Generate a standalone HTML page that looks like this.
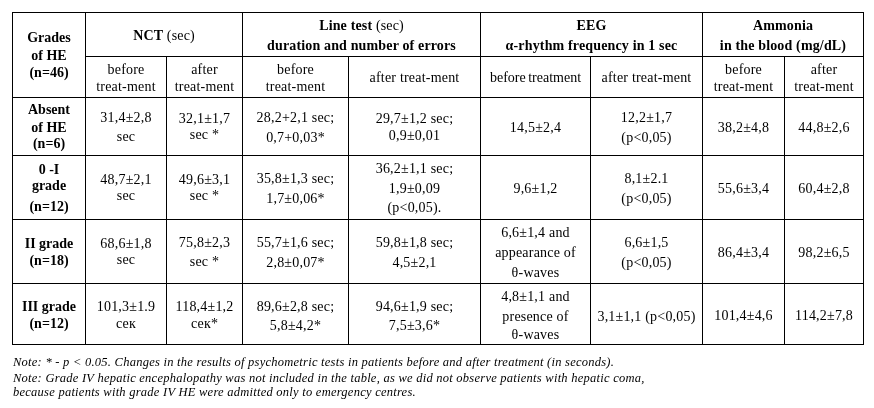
<!DOCTYPE html>
<html><head><meta charset="utf-8"><style>
html,body{margin:0;padding:0;background:#fff;}
body{width:874px;height:408px;position:relative;overflow:hidden;font-family:"Liberation Serif","DejaVu Serif",serif;color:#000;}
.l{position:absolute;background:#000;}
.t{position:absolute;text-align:center;font-size:14px;line-height:16px;height:16px;white-space:nowrap;}
.t.b{font-weight:bold;}
.t.h{letter-spacing:0.15px;}
.t.s{letter-spacing:0.2px;}
.t.d{letter-spacing:0.2px;}
.n{position:absolute;left:13px;font-style:italic;font-size:12.5px;line-height:16px;letter-spacing:0.25px;white-space:nowrap;}
</style></head><body>

<div class="l" style="left:12px;top:12px;width:1px;height:333px"></div>
<div class="l" style="left:85px;top:12px;width:1px;height:333px"></div>
<div class="l" style="left:166px;top:56px;width:1px;height:289px"></div>
<div class="l" style="left:242px;top:12px;width:1px;height:333px"></div>
<div class="l" style="left:348px;top:56px;width:1px;height:289px"></div>
<div class="l" style="left:480px;top:12px;width:1px;height:333px"></div>
<div class="l" style="left:590px;top:56px;width:1px;height:289px"></div>
<div class="l" style="left:702px;top:12px;width:1px;height:333px"></div>
<div class="l" style="left:784px;top:56px;width:1px;height:289px"></div>
<div class="l" style="left:863px;top:12px;width:1px;height:333px"></div>
<div class="l" style="left:12px;top:12px;width:852px;height:1px"></div>
<div class="l" style="left:85px;top:56px;width:779px;height:1px"></div>
<div class="l" style="left:12px;top:97px;width:852px;height:1px"></div>
<div class="l" style="left:12px;top:155px;width:852px;height:1px"></div>
<div class="l" style="left:12px;top:219px;width:852px;height:1px"></div>
<div class="l" style="left:12px;top:283px;width:852px;height:1px"></div>
<div class="l" style="left:12px;top:344px;width:852px;height:1px"></div>
<div class="t b" style="left:13px;top:30px;width:72px">Grades</div>
<div class="t b" style="left:13px;top:48px;width:72px">of HE</div>
<div class="t b" style="left:13px;top:65px;width:72px">(n=46)</div>
<div class="t h" style="left:86px;top:28px;width:156px"><b>NCT</b> (sec)</div>
<div class="t h" style="left:243px;top:18px;width:237px"><b>Line test</b> (sec)</div>
<div class="t h" style="left:243px;top:38px;width:237px"><b>duration and number of errors</b></div>
<div class="t h" style="left:481px;top:18px;width:221px"><b>EEG</b></div>
<div class="t h" style="left:481px;top:38px;width:221px"><b>α-rhythm frequency in 1 sec</b></div>
<div class="t b h" style="left:703px;top:18px;width:160px">Ammonia</div>
<div class="t b h" style="left:703px;top:38px;width:160px">in the blood (mg/dL)</div>
<div class="t s" style="left:86px;top:62px;width:80px">before</div>
<div class="t s" style="left:86px;top:79px;width:80px">treat-ment</div>
<div class="t s" style="left:167px;top:62px;width:75px">after</div>
<div class="t s" style="left:167px;top:79px;width:75px">treat-ment</div>
<div class="t s" style="left:243px;top:62px;width:105px">before</div>
<div class="t s" style="left:243px;top:79px;width:105px">treat-ment</div>
<div class="t s" style="left:349px;top:70px;width:131px">after treat-ment</div>
<div class="t s" style="left:481px;top:70px;width:109px"><span style="letter-spacing:0;word-spacing:-1px">before treatment</span></div>
<div class="t s" style="left:591px;top:70px;width:111px">after treat-ment</div>
<div class="t s" style="left:703px;top:62px;width:81px">before</div>
<div class="t s" style="left:703px;top:79px;width:81px">treat-ment</div>
<div class="t s" style="left:785px;top:62px;width:78px">after</div>
<div class="t s" style="left:785px;top:79px;width:78px">treat-ment</div>
<div class="t b" style="left:13px;top:102px;width:72px">Absent</div>
<div class="t b" style="left:13px;top:120px;width:72px">of HE</div>
<div class="t b" style="left:13px;top:136px;width:72px">(n=6)</div>
<div class="t d" style="left:86px;top:110px;width:80px">31,4±2,8</div>
<div class="t d" style="left:86px;top:129px;width:80px">sec</div>
<div class="t d" style="left:167px;top:111px;width:75px">32,1±1,7</div>
<div class="t d" style="left:167px;top:127px;width:75px">sec *</div>
<div class="t d" style="left:243px;top:110px;width:105px">28,2+2,1 sec;</div>
<div class="t d" style="left:243px;top:130px;width:105px">0,7+0,03*</div>
<div class="t d" style="left:349px;top:111px;width:131px">29,7±1,2 sec;</div>
<div class="t d" style="left:349px;top:128px;width:131px">0,9±0,01</div>
<div class="t d" style="left:481px;top:120px;width:109px">14,5±2,4</div>
<div class="t d" style="left:591px;top:110px;width:111px">12,2±1,7</div>
<div class="t d" style="left:591px;top:130px;width:111px">(p&lt;0,05)</div>
<div class="t d" style="left:703px;top:120px;width:81px">38,2±4,8</div>
<div class="t d" style="left:785px;top:120px;width:78px">44,8±2,6</div>
<div class="t b" style="left:13px;top:162px;width:72px">0 -I</div>
<div class="t b" style="left:13px;top:178px;width:72px">grade</div>
<div class="t b" style="left:13px;top:199px;width:72px">(n=12)</div>
<div class="t d" style="left:86px;top:172px;width:80px">48,7±2,1</div>
<div class="t d" style="left:86px;top:188px;width:80px">sec</div>
<div class="t d" style="left:167px;top:172px;width:75px">49,6±3,1</div>
<div class="t d" style="left:167px;top:188px;width:75px">sec *</div>
<div class="t d" style="left:243px;top:171px;width:105px">35,8±1,3 sec;</div>
<div class="t d" style="left:243px;top:191px;width:105px">1,7±0,06*</div>
<div class="t d" style="left:349px;top:161px;width:131px">36,2±1,1 sec;</div>
<div class="t d" style="left:349px;top:181px;width:131px">1,9±0,09</div>
<div class="t d" style="left:349px;top:200px;width:131px">(p&lt;0,05).</div>
<div class="t d" style="left:481px;top:181px;width:109px">9,6±1,2</div>
<div class="t d" style="left:591px;top:171px;width:111px">8,1±2.1</div>
<div class="t d" style="left:591px;top:191px;width:111px">(p&lt;0,05)</div>
<div class="t d" style="left:703px;top:181px;width:81px">55,6±3,4</div>
<div class="t d" style="left:785px;top:181px;width:78px">60,4±2,8</div>
<div class="t b" style="left:13px;top:236px;width:72px">II grade</div>
<div class="t b" style="left:13px;top:253px;width:72px">(n=18)</div>
<div class="t d" style="left:86px;top:236px;width:80px">68,6±1,8</div>
<div class="t d" style="left:86px;top:252px;width:80px">sec</div>
<div class="t d" style="left:167px;top:235px;width:75px">75,8±2,3</div>
<div class="t d" style="left:167px;top:254px;width:75px">sec *</div>
<div class="t d" style="left:243px;top:235px;width:105px">55,7±1,6 sec;</div>
<div class="t d" style="left:243px;top:255px;width:105px">2,8±0,07*</div>
<div class="t d" style="left:349px;top:235px;width:131px">59,8±1,8 sec;</div>
<div class="t d" style="left:349px;top:255px;width:131px">4,5±2,1</div>
<div class="t d" style="left:481px;top:225px;width:109px">6,6±1,4 and</div>
<div class="t d" style="left:481px;top:245px;width:109px">appearance of</div>
<div class="t d" style="left:481px;top:265px;width:109px">θ-waves</div>
<div class="t d" style="left:591px;top:235px;width:111px">6,6±1,5</div>
<div class="t d" style="left:591px;top:255px;width:111px">(p&lt;0,05)</div>
<div class="t d" style="left:703px;top:245px;width:81px">86,4±3,4</div>
<div class="t d" style="left:785px;top:245px;width:78px">98,2±6,5</div>
<div class="t b" style="left:13px;top:299px;width:72px">III grade</div>
<div class="t b" style="left:13px;top:316px;width:72px">(n=12)</div>
<div class="t d" style="left:86px;top:299px;width:80px">101,3±1.9</div>
<div class="t d" style="left:86px;top:316px;width:80px">сек</div>
<div class="t d" style="left:167px;top:299px;width:75px">118,4±1,2</div>
<div class="t d" style="left:167px;top:316px;width:75px">сек*</div>
<div class="t d" style="left:243px;top:299px;width:105px">89,6±2,8 sec;</div>
<div class="t d" style="left:243px;top:318px;width:105px">5,8±4,2*</div>
<div class="t d" style="left:349px;top:299px;width:131px">94,6±1,9 sec;</div>
<div class="t d" style="left:349px;top:318px;width:131px">7,5±3,6*</div>
<div class="t d" style="left:481px;top:289px;width:109px">4,8±1,1 and</div>
<div class="t d" style="left:481px;top:309px;width:109px">presence of</div>
<div class="t d" style="left:481px;top:327px;width:109px">θ-waves</div>
<div class="t d" style="left:591px;top:309px;width:111px">3,1±1,1 (p&lt;0,05)</div>
<div class="t d" style="left:703px;top:308px;width:81px">101,4±4,6</div>
<div class="t d" style="left:785px;top:308px;width:78px">114,2±7,8</div>
<div class="n" style="top:354px">Note: * - p &lt; 0.05. Changes in the results of psychometric tests in patients before and after treatment (in seconds).</div>
<div class="n" style="top:370px">Note: Grade IV hepatic encephalopathy was not included in the table, as we did not observe patients with hepatic coma,</div>
<div class="n" style="top:384px">because patients with grade IV HE were admitted only to emergency centres.</div>
</body></html>
